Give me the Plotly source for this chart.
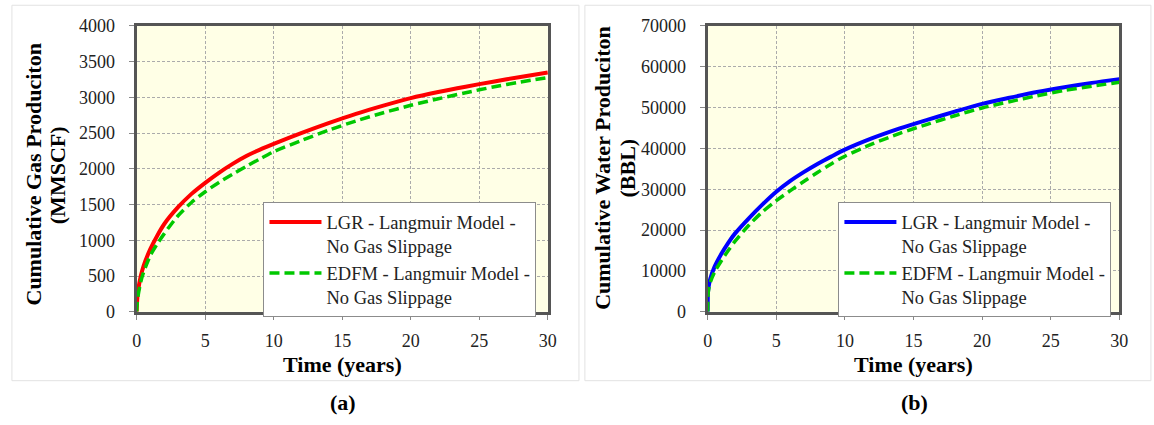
import plotly.graph_objects as go

# ---------------- data ----------------
t_gas = [0, 0.02, 0.1, 0.3, 0.5, 1, 1.5, 2, 3, 4, 5, 6, 7, 8, 9, 10, 12, 14, 16, 18, 20, 22, 24, 26, 28, 30]
gas_lgr = [0, 110, 290, 500, 640, 880, 1065, 1225, 1460, 1650, 1805, 1945, 2070, 2180, 2270, 2350,
           2500, 2640, 2770, 2885, 2990, 3075, 3150, 3220, 3285, 3347]
gas_edfm = [0, 80, 220, 420, 550, 790, 950, 1090, 1340, 1530, 1680, 1810, 1925, 2035, 2140, 2240,
            2395, 2540, 2670, 2785, 2889, 2980, 3065, 3145, 3215, 3276]

t_water = [0, 0.02, 0.05, 0.1, 0.2, 0.5, 1, 1.5, 2, 3, 4, 5, 6, 7, 8, 9, 10, 12, 14, 16, 18, 20, 22, 24, 26, 28, 30]
water_lgr = [0, 4500, 5600, 6700, 8200, 11000, 14200, 16900, 19200, 22900, 26300, 29400, 32000, 34200,
             36200, 38000, 39700, 42500, 44900, 47000, 49000, 50900, 52400, 53800, 55000, 56050, 56970]
water_edfm = [0, 3500, 5000, 6000, 7300, 9700, 12500, 15000, 17300, 21200, 24500, 27200, 29600, 31900,
              34100, 36200, 38100, 41100, 43700, 45900, 48000, 49900, 51450, 52900, 54200, 55250, 56180]

name_lgr = "LGR - Langmuir Model -<br>No Gas Slippage"
name_edfm = "EDFM - Langmuir Model -<br>No Gas Slippage"
x_title = "Time (years)"
y_title_gas = ["Cumulative Gas Produciton", "(MMSCF)"]
y_title_water = ["Cumulative Water Produciton", "(BBL)"]
panel_labels = ["(a)", "(b)"]

# ---------------- layout helpers ----------------
W, H = 1154, 425
FONT = "Liberation Serif"

def px(x):
    return x / W

def py(y):
    return 1 - y / H

left_dom = [px(133.3), px(549.5)]
right_dom = [px(711.3), px(1128.0)]
y_dom = [py(316.7), py(16.7)]

fig = go.Figure()

solid = dict(width=4, shape="spline", smoothing=0.8)
dashed = dict(color="#00C800", width=3.5, dash="10px,5px", shape="spline", smoothing=0.8)

fig.add_trace(go.Scatter(x=t_gas, y=gas_lgr, mode="lines", name=name_lgr,
                         line=dict(color="#FF0000", **solid), xaxis="x", yaxis="y", legend="legend"))
fig.add_trace(go.Scatter(x=t_gas, y=gas_edfm, mode="lines", name=name_edfm,
                         line=dashed, xaxis="x", yaxis="y", legend="legend"))
fig.add_trace(go.Scatter(x=t_water, y=water_lgr, mode="lines", name=name_lgr,
                         line=dict(color="#0000FF", **solid), xaxis="x2", yaxis="y2", legend="legend2"))
fig.add_trace(go.Scatter(x=t_water, y=water_edfm, mode="lines", name=name_edfm,
                         line=dashed, xaxis="x2", yaxis="y2", legend="legend2"))

axis_common = dict(
    showline=True, mirror=True, linewidth=3, linecolor="#555555",
    showgrid=True, gridcolor="#ABABAB", gridwidth=1, griddash="3px,2px",
    ticks="outside", ticklen=5, tickcolor="#888888", tickwidth=1,
    tickfont=dict(family=FONT, size=18, color="#222222"),
    zeroline=False, fixedrange=True, tickformat="d",
)

legend_common = dict(
    xanchor="right", yanchor="top",
    bgcolor="white", bordercolor="#8C8C8C", borderwidth=1,
    font=dict(family=FONT, size=18.5, color="#222222"), valign="top",
    tracegroupgap=0, itemwidth=52,
)

fig.update_layout(
    width=W, height=H,
    margin=dict(l=0, r=0, t=0, b=0),
    font=dict(family=FONT, color="#222222"),
    paper_bgcolor="white",
    plot_bgcolor="#FFFFE6",
    xaxis=dict(domain=left_dom, anchor="y", range=[0, 30], dtick=5, ticklabelstandoff=6, **axis_common),
    yaxis=dict(domain=y_dom, anchor="x", range=[0, 4000], dtick=500, ticklabelstandoff=10, **axis_common),
    xaxis2=dict(domain=right_dom, anchor="y2", range=[0, 30], dtick=5, ticklabelstandoff=6, **axis_common),
    yaxis2=dict(domain=y_dom, anchor="x2", range=[0, 70000], dtick=10000, ticklabelstandoff=10, **axis_common),
    legend=dict(x=px(538), y=py(202), **legend_common),
    legend2=dict(x=px(1120), y=py(202), **legend_common),
    showlegend=True,
)

annotations = []
bold = dict(family=FONT, size=22, color="black")
# x titles
for cx in [(133.3 + 549.5) / 2, (711.3 + 1128.0) / 2]:
    annotations.append(dict(text="<b>%s</b>" % x_title, x=px(cx), y=py(372), xref="paper", yref="paper",
                            xanchor="center", yanchor="middle", showarrow=False, font=bold))
# y titles (two lines each)
for (lines, x1, x2, cy) in [(y_title_gas, 29, 54, 173), (y_title_water, 605, 630, 166)]:
    for txt, cx in zip(lines, [x1, x2]):
        annotations.append(dict(text="<b>%s</b>" % txt, x=px(cx), y=py(cy), xref="paper", yref="paper",
                                xanchor="center", yanchor="middle", textangle=-90, showarrow=False,
                                font=bold))
# panel labels
for txt, cx in zip(panel_labels, [342, 921]):
    annotations.append(dict(text="<b>%s</b>" % txt, x=px(cx), y=py(412), xref="paper", yref="paper",
                            xanchor="center", yanchor="middle", showarrow=False, font=bold))
fig.update_layout(annotations=annotations)

# faint panel frames
shapes = [
    dict(type="rect", xref="paper", yref="paper", x0=px(7), x1=px(581), y0=py(389), y1=py(-5),
         line=dict(color="#E2E2E2", width=1)),
    dict(type="rect", xref="paper", yref="paper", x0=px(587), x1=px(1160), y0=py(389), y1=py(-5),
         line=dict(color="#E2E2E2", width=1)),
]
fig.update_layout(shapes=shapes)

fig.write_html("out.html")
